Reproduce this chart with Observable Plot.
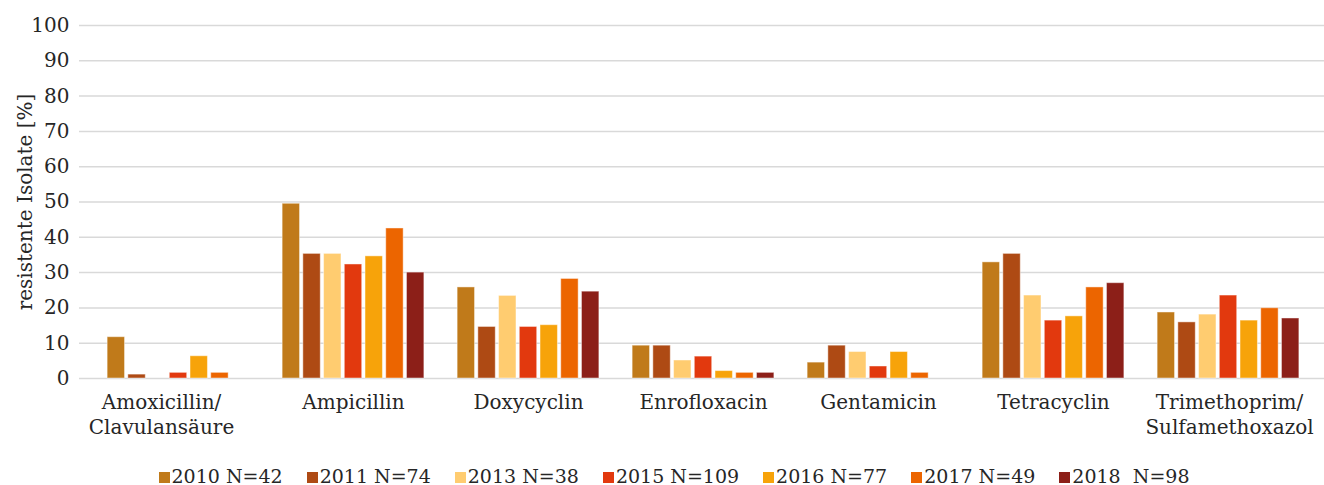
<!DOCTYPE html>
<html>
<head>
<meta charset="utf-8">
<script src="https://cdn.jsdelivr.net/npm/d3@7"></script>
<script src="https://cdn.jsdelivr.net/npm/@observablehq/plot@0.6"></script>
<style>
  html, body { margin: 0; padding: 0; background: #fff; }
  #chart { width: 1324px; height: 450px; position: relative; }
  #chart svg { position: absolute; left: 0; top: 0; }
  #legend { display: flex; justify-content: center; gap: 24px; height: 35px; box-sizing: border-box; padding-top: 17px; padding-left: 24px;
            font-family: "DejaVu Serif", serif; font-size: 19px; line-height: 20px; color: #262626; }
  .item { display: flex; align-items: center; white-space: pre; }
  .sw { width: 11px; height: 11px; margin-right: 2px; margin-top: 3px; }
</style>
</head>
<body>
<div id="chart"></div>
<div id="legend"></div>
<script>
const categories = ["Amoxicillin/Clavulansäure", "Ampicillin", "Doxycyclin", "Enrofloxacin", "Gentamicin", "Tetracyclin", "Trimethoprim/Sulfamethoxazol"];
const series = ["2010 N=42", "2011 N=74", "2013 N=38", "2015 N=109", "2016 N=77", "2017 N=49", "2018  N=98"];
const colors = ["#C07A1A", "#AE4A14", "#FFCC70", "#E2390E", "#F7A30A", "#EC6500", "#8C1F18"];
const v2010 = [11.7, 49.5, 25.8, 9.3, 4.5, 32.9, 18.7];
const v2011 = [1.1, 35.3, 14.6, 9.3, 9.3, 35.3, 15.9];
const v2013 = [0, 35.3, 23.4, 5.1, 7.5, 23.5, 18.1];
const v2015 = [1.6, 32.3, 14.6, 6.2, 3.4, 16.4, 23.5];
const v2016 = [6.3, 34.6, 15.1, 2.1, 7.5, 17.6, 16.4];
const v2017 = [1.6, 42.5, 28.2, 1.6, 1.6, 25.8, 19.9];
const v2018 = [0, 30.0, 24.6, 1.6, 0, 27.0, 17.0];
const yTicks = [0, 10, 20, 30, 40, 50, 60, 70, 80, 90, 100];
const yLabel = "resistente Isolate [%]";

const seriesValues = [v2010, v2011, v2013, v2015, v2016, v2017, v2018];
const rows = [];
categories.forEach((c, i) => series.forEach((s, j) => rows.push({category: c, series: s, value: seriesValues[j][i]})));

const labelOf = c => c.replace("/", "/\n");
const wrappedLeft = [categories[0]];
const wrappedRight = [categories[6]];
const single = categories.slice(1, 6);

const textStyle = {fontFamily: "DejaVu Serif", fontSize: 20, fill: "#262626"};
const frame = {width: 1324, height: 450, marginLeft: 79, marginRight: 0, marginTop: 25, marginBottom: 72};

// background: gridlines, y tick labels, y title
const back = Plot.plot({
  ...frame,
  style: {fontFamily: "DejaVu Serif", fontSize: "20px", color: "#262626", background: "#fff"},
  y: {domain: [0, 100], axis: null},
  marks: [
    Plot.ruleY(yTicks, {y: d => d, stroke: "#d9d9d9", strokeWidth: 1.5}),
    Plot.text(yTicks, {y: d => d, text: d => String(d), frameAnchor: "left", textAnchor: "end", dx: -10, ...textStyle}),
    Plot.text([yLabel], {text: d => d, frameAnchor: "left", textAnchor: "middle", rotate: -90, dx: -54, ...textStyle})
  ]
});

// foreground: grouped bars and category labels
const front = Plot.plot({
  ...frame,
  style: {fontFamily: "DejaVu Serif", fontSize: "20px", color: "#262626", background: "transparent"},
  fx: {domain: categories, range: [90.5, 1315.5], paddingInner: 0.19, paddingOuter: 0.095, round: false, axis: null, label: null},
  x: {domain: series, paddingInner: 0.16, paddingOuter: 0, round: false, axis: null},
  y: {domain: [0, 100], axis: null},
  color: {domain: series, range: colors},
  marks: [
    Plot.barY(rows, {fx: "category", x: "series", y: "value", fill: "series", stroke: "#fff", strokeOpacity: 0.45, strokeWidth: 1, filter: d => d.value > 0}),
    Plot.text(single, {fx: d => d, text: labelOf, frameAnchor: "bottom", lineAnchor: "top", dy: 13, lineHeight: 1.25, ...textStyle}),
    Plot.text(wrappedLeft, {fx: d => d, text: labelOf, frameAnchor: "bottom", lineAnchor: "top", dy: 13, dx: -17, lineHeight: 1.25, ...textStyle}),
    Plot.text(wrappedRight, {fx: d => d, text: labelOf, frameAnchor: "bottom", lineAnchor: "top", dy: 13, dx: 1, lineHeight: 1.25, ...textStyle})
  ]
});

const holder = document.getElementById("chart");
holder.appendChild(back);
holder.appendChild(front);

const legend = document.getElementById("legend");
series.forEach((s, i) => {
  const item = document.createElement("div");
  item.className = "item";
  const sw = document.createElement("span");
  sw.className = "sw";
  sw.style.background = colors[i];
  const t = document.createElement("span");
  t.textContent = s;
  item.appendChild(sw);
  item.appendChild(t);
  legend.appendChild(item);
});
</script>
</body>
</html>
